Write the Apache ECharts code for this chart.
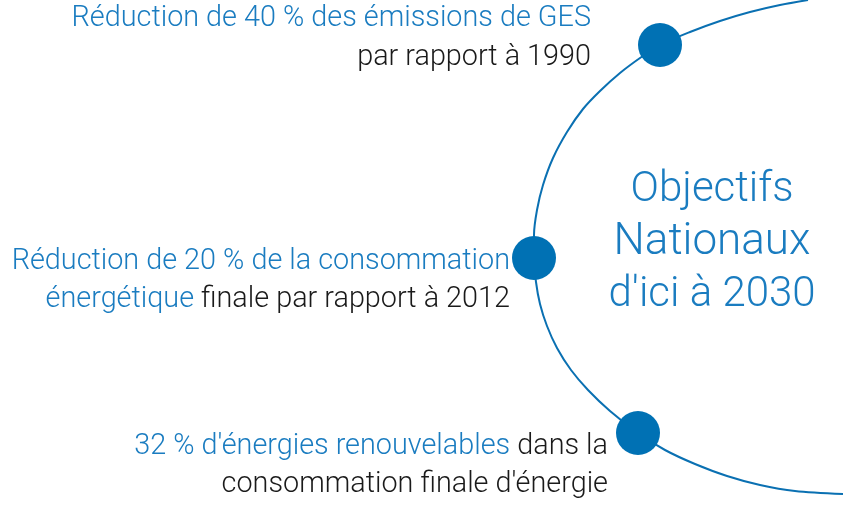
<!DOCTYPE html>
<html>
<head>
<meta charset="utf-8">
<script src="https://cdn.jsdelivr.net/npm/echarts@6/dist/echarts.min.js"></script>
<style>
html,body{margin:0;padding:0;background:#fff;}
#chart{width:853px;height:506px;}
</style>
</head>
<body>
<div id="chart"></div>
<script>
// Arc path (pixel-like coordinates, y downwards)
var arcPoints = [
  [808,0],[780,5],[750,12],[720,21],[690,32],[660,45],[640,58],[620,73],
  [600,91],[583,109],[567,132],[553,158],[543,185],[537,210],[534,235],
  [534,258],[536,282],[540,304],[547,326],[557,348],[571,370],[588,390],
  [610,411],[638,433],[665,450],[695,464],[727,476],[760,485],[795,491],
  [843,494]
];
// Marker dots on the arc
var dotPoints = [[660,45],[534,258],[638,433]];

// Texts
var block1 = ['Réduction de 40 % des émissions de GES', 'par rapport à 1990'];
var block2 = ['Réduction de 20 % de la consommation', ['énergétique', ' finale par rapport à 2012']];
var block3 = [['32 % d\'énergies renouvelables', ' dans la'], 'consommation finale d\'énergie'];
var centerTitle = ['Objectifs', 'Nationaux', 'd\'ici à 2030'];

var BLUE_TEXT = '#1a7cc0';
var DARK_TEXT = '#1a1a1a';
var LINE_BLUE = '#0a70b2';
var DOT_BLUE = '#0071b4';
var FONT = 'Roboto, "Liberation Sans", sans-serif';
var FS = 28.8;

var chart = echarts.init(document.getElementById('chart'), null, {renderer: 'canvas'});

function txt(x, y, content, opts) {
  opts = opts || {};
  var style = {
    x: x, y: y,
    align: opts.align || 'right',
    verticalAlign: 'middle',
    fontFamily: FONT,
    fontSize: opts.fontSize || FS,
    fontWeight: opts.fontWeight || 300,
    fill: opts.fill || BLUE_TEXT
  };
  if (Array.isArray(content)) {
    style.text = '{b|' + content[0] + '}{k|' + content[1] + '}';
    style.rich = {
      b: {fill: BLUE_TEXT, fontFamily: FONT, fontSize: FS, fontWeight: 300, color: BLUE_TEXT},
      k: {fill: DARK_TEXT, fontFamily: FONT, fontSize: FS, fontWeight: 300, color: DARK_TEXT}
    };
  } else {
    style.text = content;
  }
  return {type: 'text', z: 10, style: style};
}

var graphics = [
  txt(591, 19, block1[0]),
  txt(591, 58, block1[1], {fill: DARK_TEXT}),
  txt(510, 262, block2[0]),
  txt(510, 300, block2[1]),
  txt(608, 447, block3[0]),
  txt(608, 485, block3[1], {fill: DARK_TEXT}),
  txt(712, 190, centerTitle[0], {align: 'center', fontSize: 42}),
  txt(712, 243, centerTitle[1], {align: 'center', fontSize: 44}),
  txt(712, 295, centerTitle[2], {align: 'center', fontSize: 42})
];

chart.setOption({
  animation: false,
  backgroundColor: '#ffffff',
  grid: {left: 0, right: 0, top: 0, bottom: 0},
  xAxis: {type: 'value', min: 0, max: 853, show: false},
  yAxis: {type: 'value', min: 0, max: 506, inverse: true, show: false},
  graphic: graphics,
  series: [
    {
      type: 'line',
      data: arcPoints,
      smooth: 0.3,
      symbol: 'none',
      lineStyle: {color: LINE_BLUE, width: 2},
      z: 1
    },
    {
      type: 'scatter',
      data: dotPoints,
      symbol: 'circle',
      symbolSize: 44,
      itemStyle: {color: DOT_BLUE, opacity: 1},
      z: 5
    }
  ]
});
</script>
</body>
</html>
